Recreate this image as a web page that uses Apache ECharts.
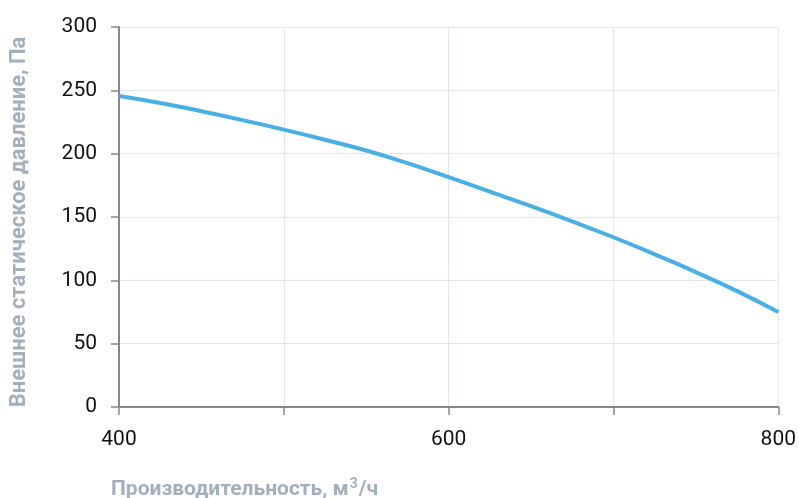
<!DOCTYPE html>
<html><head><meta charset="utf-8">
<script src="https://cdn.jsdelivr.net/npm/echarts@6/dist/echarts.min.js"></script>
<style>html,body{margin:0;padding:0;background:#fff}#c{width:799px;height:498px}</style>
</head><body><div id="c"></div>
<script>
const flow = [400,425,450,475,500,525,550,575,600,625,650,675,700,725,750,775,800];
const pressure = [245.5,240,233.5,226.5,219,211,202.5,192.5,181.5,170,158.5,146.5,134,120.5,106.5,91.5,75];
const xTickLabels = {400:'400',600:'600',800:'800'};
const chart = echarts.init(document.getElementById('c'));
chart.setOption({
  animation:false,
  textStyle:{fontFamily:'Roboto'},
  title:{left:106,top:472,text:'{b|Производительность, м}{s|3}{b|/ч}',
    textStyle:{rich:{b:{fontSize:21,fontWeight:'bold',color:'#a3afbd',fontFamily:'Roboto'},
      s:{fontSize:14,color:'#a3afbd',verticalAlign:'top',padding:[0,1,12,1],fontFamily:'Roboto'}}}},
  grid:{left:119,right:20,top:27,bottom:91},
  xAxis:{type:'value',min:400,max:800,interval:100,
    axisLine:{lineStyle:{color:'#888',width:2}},
    axisTick:{show:true,length:8,inside:false,lineStyle:{color:'#888',width:1.5}},
    axisLabel:{color:'#111',fontSize:21,margin:22,formatter:v=>xTickLabels[v]||''},
    splitLine:{show:true,lineStyle:{color:'#dfe7f3',width:1}}},
  yAxis:{type:'value',min:0,max:300,interval:50,
    name:'Внешнее статическое давление, Па',nameLocation:'middle',nameGap:89,
    nameTextStyle:{fontSize:22,fontWeight:'bold',color:'#a3afbd',padding:[0,10,0,0]},
    axisLine:{show:true,lineStyle:{color:'#888',width:2}},
    axisTick:{show:true,length:8,lineStyle:{color:'#888',width:1.5}},
    axisLabel:{color:'#111',fontSize:21,margin:22},
    splitLine:{show:true,lineStyle:{color:'#dfe7f3',width:1}}},
  series:[{type:'line',smooth:true,showSymbol:false,
    data:flow.map((f,i)=>[f,pressure[i]]),
    lineStyle:{color:'#49b0e5',width:4}}]
});
</script></body></html>
